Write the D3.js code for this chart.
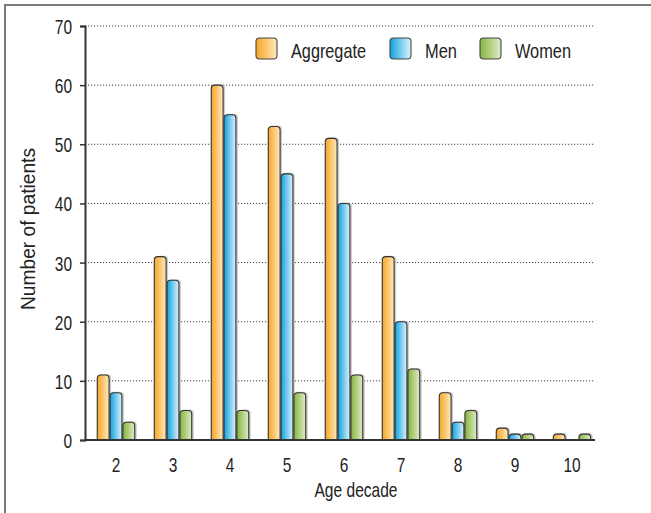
<!DOCTYPE html>
<html>
<head>
<meta charset="utf-8">
<script src="https://cdn.jsdelivr.net/npm/d3@7/dist/d3.min.js"></script>
<style>
  html, body { margin: 0; padding: 0; background: #fff; }
  svg text { font-family: "Liberation Sans", Arial, sans-serif; fill: #222; font-size: 21px; }
</style>
</head>
<body>
<svg id="chart" width="651" height="513"></svg>
<script>
const categories = ["2", "3", "4", "5", "6", "7", "8", "9", "10"];
const seriesNames = ["Aggregate", "Men", "Women"];
const aggregate = [11, 31, 60, 53, 51, 31, 8, 2, 1];
const men = [8, 27, 55, 45, 40, 20, 3, 1, 0];
const women = [3, 5, 5, 8, 11, 12, 5, 1, 1];
const yTicks = [0, 10, 20, 30, 40, 50, 60, 70];
const xTitle = "Age decade";
const yTitle = "Number of patients";

const seriesValues = [aggregate, men, women];
const colors = [
  { dark: "#F6A623", light: "#FFE9BF" },
  { dark: "#0FA3E0", light: "#DDF1FB" },
  { dark: "#86B53C", light: "#DFEBC9" }
];
// rendered widths imitating the condensed face of the original
const textWidths = { "Aggregate": 75, "Men": 32, "Women": 56, "Age decade": 83, "Number of patients": 162 };
const digitWidth = 8.6;

const svg = d3.select("#chart");
const defs = svg.append("defs");
colors.forEach((c, i) => {
  const g = defs.append("linearGradient").attr("id", "grad" + i)
    .attr("x1", "0%").attr("x2", "100%").attr("y1", "0%").attr("y2", "0%");
  g.append("stop").attr("offset", "0%").attr("stop-color", c.dark);
  g.append("stop").attr("offset", "100%").attr("stop-color", c.light);
});

function squeeze(sel) {
  sel.each(function () {
    const t = d3.select(this);
    const s = t.text();
    const w = textWidths[s] !== undefined ? textWidths[s] : s.length * digitWidth;
    t.attr("textLength", w).attr("lengthAdjust", "spacingAndGlyphs");
  });
}

// frame
svg.append("rect").attr("x", 5).attr("y", 5).attr("width", 680).attr("height", 540)
  .attr("fill", "none").attr("stroke", "#7a7a7a").attr("stroke-width", 2);

const x0 = 85, x1 = 595;
const y = d3.scaleLinear().domain([0, 70]).range([440, 26]);
const x = d3.scaleBand().domain(categories).range([87.5, 600.5])
  .paddingInner(0.325).paddingOuter(0.1625);
const xs = d3.scaleBand().domain(seriesNames).range([0, x.bandwidth()]);

// gridlines
svg.append("g").selectAll("line").data(yTicks.filter(t => t > 0)).join("line")
  .attr("x1", x0).attr("x2", x1)
  .attr("y1", d => y(d)).attr("y2", d => y(d))
  .attr("stroke", "#444").attr("stroke-width", 1).attr("stroke-dasharray", "1.2,1.8");

// bars
function barPath(bx, by, w, h, r) {
  r = Math.min(r, h, w / 2);
  return `M${bx},${by + h} L${bx},${by + r} Q${bx},${by} ${bx + r},${by} L${bx + w - r},${by} Q${bx + w},${by} ${bx + w},${by + r} L${bx + w},${by + h} Z`;
}
const barsG = svg.append("g");
seriesNames.forEach((s, si) => {
  const data = categories.map((c, ci) => ({ c, v: seriesValues[si][ci] })).filter(d => d.v > 0);
  barsG.append("g").selectAll("path").data(data).join("path")
    .attr("d", d => barPath(x(d.c) + xs(s) + 1.5, y(d.v) - 1, xs.bandwidth(), y(0) - y(d.v) + 1, 3.5))
    .attr("fill", "#b8b8b8").attr("opacity", 0.7);
  barsG.append("g").selectAll("path").data(data).join("path")
    .attr("d", d => barPath(x(d.c) + xs(s) + 0.5, y(d.v), xs.bandwidth() - 1, y(0) - y(d.v), 3.5))
    .attr("fill", `url(#grad${si})`).attr("stroke", "#333").attr("stroke-width", 1.1);
});

// x axis line
svg.append("line").attr("x1", x0).attr("x2", x1).attr("y1", y(0)).attr("y2", y(0))
  .attr("stroke", "#333").attr("stroke-width", 2);

// y axis
const yAxis = d3.axisLeft(y).tickValues(yTicks).tickSize(5).tickPadding(8);
const yG = svg.append("g").attr("transform", `translate(${x0},0)`).call(yAxis);
yG.select(".domain").attr("stroke", "#333").attr("stroke-width", 2);
yG.selectAll(".tick line").attr("stroke", "#333").attr("stroke-width", 1.5);
yG.selectAll(".tick text").attr("font-size", null).attr("font-family", null)
  .attr("fill", "#222").attr("dy", "0.36em").call(squeeze);
yG.attr("font-size", null).attr("font-family", null);

// x labels
const xAxis = d3.axisBottom(x).tickSize(0);
const xG = svg.append("g").attr("transform", `translate(0,${y(0)})`).call(xAxis);
xG.select(".domain").remove();
xG.attr("font-size", null).attr("font-family", null);
xG.selectAll(".tick text").attr("fill", "#222").attr("dy", null).attr("y", 32).call(squeeze);

// titles
svg.append("text").attr("x", 356).attr("y", 497).attr("text-anchor", "middle")
  .text(xTitle).call(squeeze);
svg.append("text").attr("transform", "translate(35,229) rotate(-90)").attr("text-anchor", "middle")
  .text(yTitle).call(squeeze);

// legend
const legendX = [256, 390, 480];
const lg = svg.append("g");
seriesNames.forEach((s, i) => {
  lg.append("rect").attr("x", legendX[i]).attr("y", 38).attr("width", 21).attr("height", 21)
    .attr("rx", 3.5).attr("fill", `url(#grad${i})`).attr("stroke", "#444").attr("stroke-width", 1.1);
  lg.append("text").attr("x", legendX[i] + 35).attr("y", 58).text(s).call(squeeze);
});
</script>
</body>
</html>
